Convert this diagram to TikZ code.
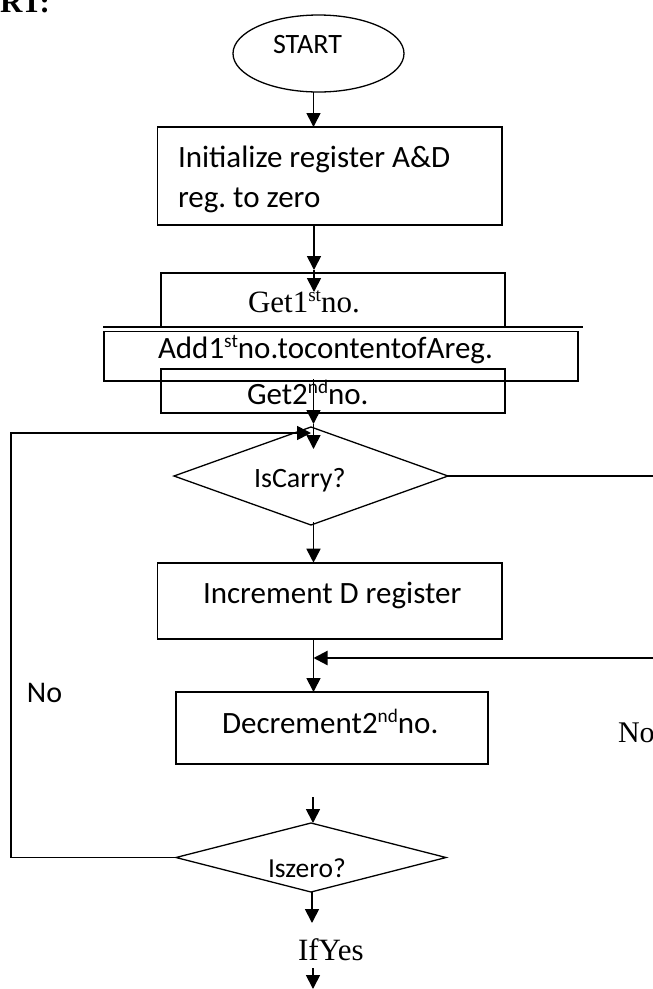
\documentclass[tikz,border=0pt]{standalone}
\usepackage{fontspec}
\usetikzlibrary{arrows.meta,shapes.geometric}
\newfontfamily\calfont{Carlito}
\newfontfamily\serfont{Liberation Serif}
\newcommand\supx[1]{\raisebox{0.34em}{\scalebox{0.62}{#1}}}
\frenchspacing
\begin{document}
\begin{tikzpicture}[x=1pt,y=-1pt,
  box/.style={draw,line width=1.6pt,rectangle,inner sep=0pt,outer sep=0pt},
  dia/.style={draw,line width=1.3pt,diamond,inner sep=0pt,outer sep=0pt},
  term/.style={draw,line width=1.3pt,ellipse,inner sep=0pt,outer sep=0pt},
  txt/.style={inner sep=0pt,outer sep=0pt,anchor=base west},
  sans/.style={font=\calfont\fontsize{31}{36}\selectfont},
  sanss/.style={font=\calfont\fontsize{28}{33}\selectfont},
  serif/.style={font=\serfont\fontsize{31}{36}\selectfont},
  arr/.style={line width=1.7pt,-{Triangle[length=14pt,width=14pt]}},
  flow/.style={line width=1.6pt}]
\useasboundingbox (0,0) rectangle (653,989);

% heading fragment
\node[txt,font=\serfont\bfseries\fontsize{31}{36}\selectfont] (head) at (0,12) {RT:};

% shapes
\node[term,minimum width=171pt,minimum height=77pt] (start) at (318.5,53.5) {};
\node[box,minimum width=344.5pt,minimum height=98pt] (init) at (329.75,176) {};
\node[box,minimum width=344pt,minimum height=54.3pt] (get1) at (332.7,299.85) {};
\node[box,minimum width=474.3pt,minimum height=49.4pt] (add) at (340.85,356) {};
\node[box,minimum width=344.3pt,minimum height=44pt] (get2) at (332.85,391) {};
\node[dia,minimum width=274pt,minimum height=98pt] (carry) at (311,476) {};
\node[box,minimum width=344.5pt,minimum height=76pt] (inc) at (329.75,600.7) {};
\node[box,minimum width=312pt,minimum height=72pt] (dec) at (331.7,728) {};
\node[dia,minimum width=270pt,minimum height=69pt] (zero) at (311,857.5) {};

% rule under the first input box
\coordinate (sepL) at (103,327);
\coordinate (sepR) at (583,327);
\draw[line width=1.6pt] (sepL) -- (sepR);

% texts
\node[txt,sanss] (tstart) at (273,53) {START};
\node[txt,sans] (tinit1) at (178,167) {Initialize register A\&D};
\node[txt,sans] (tinit2) at (178,207) {reg. to zero};
\node[txt,serif] (tget1) at (248,312) {Get1\supx{st}no.};
\node[txt,sans] (tadd) at (158,358) {Add1\supx{st}no.tocontentofAreg.};
\node[txt,sans] (tget2) at (247,404) {Get2\supx{nd}no.};
\node[txt,sanss] (tcarry) at (254,487) {IsCarry?};
\node[txt,sans] (tinc) at (203,603) {Increment D register};
\node[txt,font=\calfont\fontsize{30}{36}\selectfont] (tnoL) at (27,702) {No};
\node[txt,sans] (tdec) at (222,733) {Decrement2\supx{nd}no.};
\node[txt,font=\serfont\fontsize{30}{36}\selectfont] (tnoR) at (618,742) {No};
\node[txt,font=\calfont\fontsize{27.5}{33}\selectfont] (tzero) at (268,877) {Iszero?};
\node[txt,serif] (tyes) at (298,960) {IfYes};

% helper points of the connectors
\coordinate (spine) at (313.5,0);
\coordinate (h1) at (314,270);
\coordinate (h1b) at (314,292);
\coordinate (h2a) at (313.5,379);
\coordinate (h2b) at (313.5,424);
\coordinate (h2c) at (313.5,449);
\coordinate (loopTL) at (11,433);
\coordinate (loopEnd) at (311,433);
\coordinate (edgeR) at (655,0);
\coordinate (fbR) at (655,658);
\coordinate (z0) at (313,797);
\coordinate (y1) at (312,923);
\coordinate (y2) at (313,968);
\coordinate (y3) at (313,989);

% connectors
\draw[arr] (spine |- start.south) -- (spine |- init.north);
\draw[arr] (h1 |- init.south) -- (h1);
\draw[arr] (h1) -- (h1b);
\draw[arr] (h2a) -- (h2b);
\draw[arr] (h2b) -- (h2c);
\draw[arr] (zero.west) -| (loopTL) -- (loopEnd);
\draw[flow] (carry.east) -- (carry.east -| edgeR);
\draw[arr] ([yshift=3pt]spine |- carry.south) -- (spine |- inc.north);
\draw[arr] (spine |- inc.south) -- (spine |- dec.north);
\draw[line width=2.2pt,-{Triangle[length=14pt,width=14pt]}] (fbR) -- (spine |- fbR);
\draw[arr] (z0) -- (z0 |- zero.north);
\draw[arr] (y1 |- zero.south) -- (y1);
\draw[arr] (y2) -- (y3);
\end{tikzpicture}
\end{document}
